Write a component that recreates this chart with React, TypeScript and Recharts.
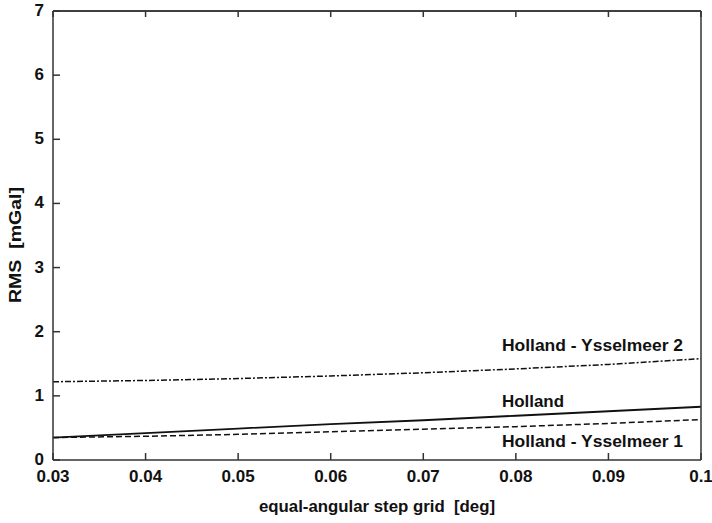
import { LineChart, Line, XAxis, YAxis, ReferenceDot, Label } from 'recharts';

const gridSteps = [0.03, 0.04, 0.05, 0.06, 0.07, 0.08, 0.09, 0.1];
const holland = [0.35, 0.42, 0.49, 0.56, 0.62, 0.69, 0.76, 0.83];
const ysselmeer1 = [0.35, 0.37, 0.4, 0.44, 0.48, 0.52, 0.57, 0.63];
const ysselmeer2 = [1.22, 1.24, 1.27, 1.31, 1.36, 1.42, 1.49, 1.58];
const xTicks = [0.03, 0.04, 0.05, 0.06, 0.07, 0.08, 0.09, 0.1];
const yTicks = [0, 1, 2, 3, 4, 5, 6, 7];

const curveLabels = [
  { x: 0.0785, y: 1.79, text: 'Holland - Ysselmeer 2', len: 181 },
  { x: 0.0785, y: 0.92, text: 'Holland', len: 62 },
  { x: 0.0785, y: 0.3, text: 'Holland - Ysselmeer 1', len: 181 },
];

const data = gridSteps.map((g, i) => ({
  g,
  holland: holland[i],
  ys1: ysselmeer1[i],
  ys2: ysselmeer2[i],
}));

const FONT = 'Arial, "Liberation Sans", sans-serif';
const INK = '#111';
const axisColor = '#333';

// ticks point inwards, like the original plot frame
const BottomTick = (p: any) => (
  <g>
    <line x1={p.x} x2={p.x} y1={p.y} y2={p.y - 7} stroke={axisColor} strokeWidth={1.5} />
    <text x={p.x} y={p.y + 22} textAnchor="middle" fill={INK} fontSize={17} fontWeight={700} fontFamily={FONT}>
      {String(Number(p.payload.value.toFixed(2)))}
    </text>
  </g>
);

const LeftTick = (p: any) => (
  <g>
    <line x1={p.x} x2={p.x + 7} y1={p.y} y2={p.y} stroke={axisColor} strokeWidth={1.5} />
    <text x={p.x - 9} y={p.y + 5} textAnchor="end" fill={INK} fontSize={17} fontWeight={700} fontFamily={FONT}>
      {p.payload.value}
    </text>
  </g>
);

const TopTick = (p: any) => <line x1={p.x} x2={p.x} y1={p.y} y2={p.y + 6} stroke={axisColor} strokeWidth={1.5} />;
const RightTick = (p: any) => <line x1={p.x} x2={p.x - 6} y1={p.y} y2={p.y} stroke={axisColor} strokeWidth={1.5} />;

const CurveText = (len: number, text: string) => (props: any) => (
  <text
    x={props.cx}
    y={props.cy + 6}
    textLength={len}
    lengthAdjust="spacingAndGlyphs"
    fill={INK}
    fontSize={16}
    fontWeight={700}
    fontFamily={FONT}
  >
    {text}
  </text>
);

export default function App() {
  return (
    <div style={{ position: 'absolute', left: 0, top: 0, width: 712, height: 523, background: '#fff' }}>
      <LineChart width={712} height={523} data={data} margin={{ top: 10, right: 10, bottom: 33, left: 23 }}>
        <XAxis
          dataKey="g"
          type="number"
          domain={[0.03, 0.1]}
          ticks={xTicks}
          height={30}
          tickSize={0}
          tickMargin={0}
          tickLine={false}
          tick={<BottomTick />}
          stroke={axisColor}
          strokeWidth={1.5}
        >
          <Label
            content={(p: any) => {
              const vb = p.viewBox;
              return (
                <text x={vb.x + vb.width / 2} y={512} textAnchor="middle" textLength={236} lengthAdjust="spacingAndGlyphs" fill={INK} fontSize={16} fontWeight={700} fontFamily={FONT} style={{ whiteSpace: 'pre' }}>
                  {'equal-angular step grid  [deg]'}
                </text>
              );
            }}
          />
        </XAxis>
        <XAxis
          xAxisId="top"
          orientation="top"
          dataKey="g"
          type="number"
          domain={[0.03, 0.1]}
          ticks={xTicks}
          height={1}
          tickSize={0}
          tickMargin={0}
          tick={<TopTick />}
          tickLine={false}
          stroke="#000"
          strokeWidth={1.5}
        />
        <YAxis
          type="number"
          domain={[0, 7]}
          ticks={yTicks}
          width={30}
          tickSize={0}
          tickMargin={0}
          tickLine={false}
          tick={<LeftTick />}
          stroke={axisColor}
          strokeWidth={1.5}
        >
          <Label
            content={(p: any) => {
              const vb = p.viewBox;
              const cy = vb.y + 234;
              return (
                <text x={21} y={cy} transform={`rotate(-90 21 ${cy})`} textAnchor="middle" textLength={116} lengthAdjust="spacingAndGlyphs" fill={INK} fontSize={16} fontWeight={700} fontFamily={FONT} style={{ whiteSpace: 'pre' }}>
                  {'RMS  [mGal]'}
                </text>
              );
            }}
          />
        </YAxis>
        <YAxis
          yAxisId="right"
          orientation="right"
          type="number"
          domain={[0, 7]}
          ticks={yTicks}
          width={1}
          tickSize={0}
          tickMargin={0}
          tick={<RightTick />}
          tickLine={false}
          stroke={axisColor}
          strokeWidth={1.5}
        />
        <Line type="linear" dataKey="ys2" stroke={INK} strokeWidth={1.5} strokeDasharray="6 2 2 2" dot={false} isAnimationActive={false} />
        <Line type="linear" dataKey="holland" stroke={INK} strokeWidth={1.8} dot={false} isAnimationActive={false} />
        <Line type="linear" dataKey="ys1" stroke={INK} strokeWidth={1.5} strokeDasharray="6 3" dot={false} isAnimationActive={false} />
        {curveLabels.map((c) => (
          <ReferenceDot key={c.text} x={c.x} y={c.y} r={1} ifOverflow="visible" shape={CurveText(c.len, c.text)} />
        ))}
      </LineChart>
    </div>
  );
}
